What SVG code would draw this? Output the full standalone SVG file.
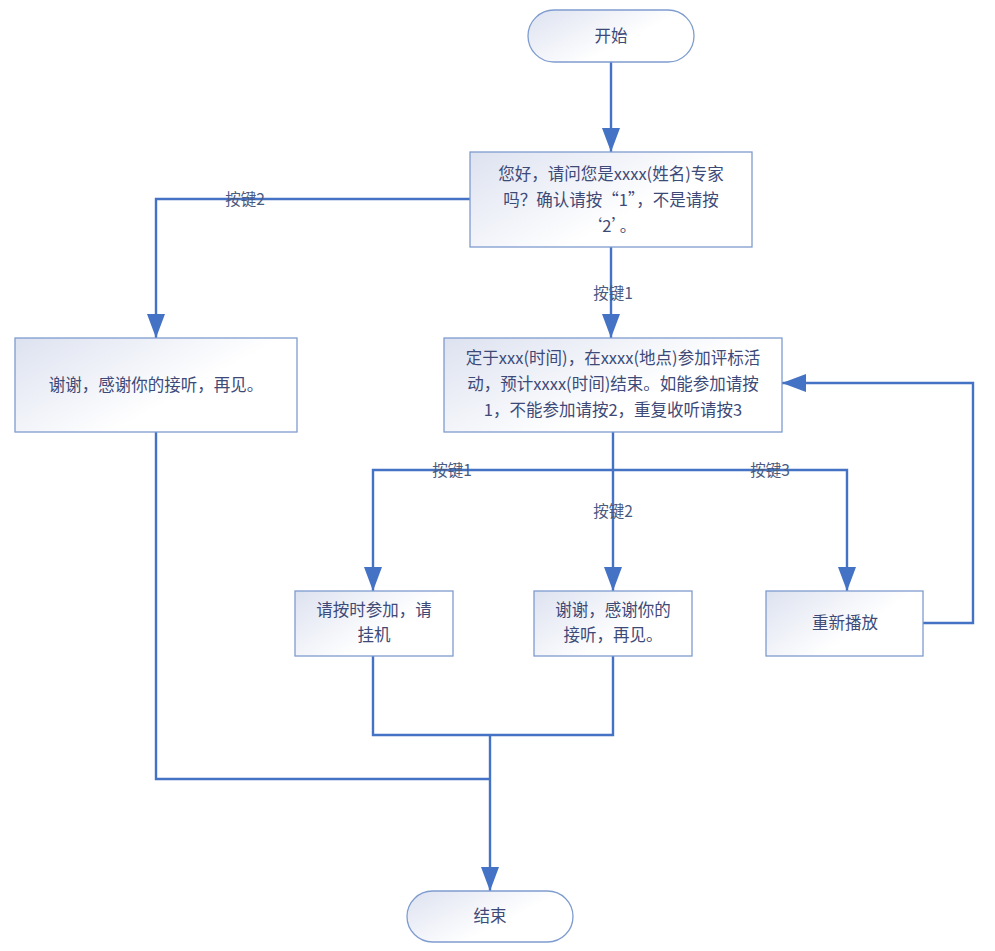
<svg xmlns="http://www.w3.org/2000/svg" width="995" height="951" viewBox="0 0 995 951">
<style>
.n{stroke:#7f9ccf;stroke-width:1.3;fill:url(#g)}
.t{font-family:"Noto Sans CJK SC","Liberation Sans",sans-serif;font-size:16.5px;fill:#3d4a78;text-anchor:middle}
.c{stroke:#4472c4;stroke-width:2.4;fill:none}
.l{font-family:"Noto Sans CJK SC","Liberation Sans",sans-serif;font-size:15.5px;fill:#4a5a80;text-anchor:middle}
</style>
<defs>
<linearGradient id="g" x1="0" y1="0" x2="1" y2="0.6"><stop offset="0" stop-color="#dde2f0"/><stop offset="0.7" stop-color="#ffffff"/></linearGradient>
<marker id="a" markerWidth="24" markerHeight="18" viewBox="0 0 24 18" refX="24" refY="9" orient="auto" markerUnits="userSpaceOnUse"><path d="M0,0 L24,9 L0,18 Z" fill="#4472c4"/></marker>
</defs>
<rect width="995" height="951" fill="#fff"/>
<g id="connectors">
<path class="c" d="M611,62 V152" marker-end="url(#a)"/>
<path class="c" d="M470,199 H156 V338" marker-end="url(#a)"/>
<path class="c" d="M611,247 V338" marker-end="url(#a)"/>
<path class="c" d="M613,432 V591" marker-end="url(#a)"/>
<path class="c" d="M613,470 H373 V591" marker-end="url(#a)"/>
<path class="c" d="M613,470 H847 V591" marker-end="url(#a)"/>
<path class="c" d="M923,623 H973 V383 H782" marker-end="url(#a)"/>
<path class="c" d="M156,432 V779 H490"/>
<path class="c" d="M373,656 V735 H613 V656"/>
<path class="c" d="M490,735 V891" marker-end="url(#a)"/>
<text class="l" x="245" y="205">按键2</text>
<text class="l" x="613" y="299">按键1</text>
<text class="l" x="613" y="517">按键2</text>
<text class="l" x="452" y="476">按键1</text>
<text class="l" x="770" y="476">按键3</text>
</g>
<g id="start"><rect class="n" x="528" y="10" width="166" height="52" rx="26"/><text class="t" x="611" y="42">开始</text></g>
<g id="ask"><rect class="n" x="470" y="152" width="282" height="95"/>
<text class="t" x="611" y="180">您好，请问您是xxxx(姓名)专家</text>
<text class="t" x="611" y="206">吗？确认请按“1”，不是请按</text>
<text class="t" x="611" y="232">‘2’。</text></g>
<g id="info"><rect class="n" x="444" y="338" width="338" height="94"/>
<text class="t" x="613" y="364">定于xxx(时间)，在xxxx(地点)参加评标活</text>
<text class="t" x="613" y="390">动，预计xxxx(时间)结束。如能参加请按</text>
<text class="t" x="613" y="416">1，不能参加请按2，重复收听请按3</text></g>
<g id="bye1"><rect class="n" x="15" y="338" width="282" height="94"/><text class="t" x="156" y="391">谢谢，感谢你的接听，再见。</text></g>
<g id="attend"><rect class="n" x="295" y="591" width="158" height="65"/><text class="t" x="374" y="616">请按时参加，请</text><text class="t" x="374" y="641">挂机</text></g>
<g id="bye2"><rect class="n" x="534" y="591" width="158" height="65"/><text class="t" x="613" y="616">谢谢，感谢你的</text><text class="t" x="613" y="641">接听，再见。</text></g>
<g id="replay"><rect class="n" x="766" y="591" width="157" height="65"/><text class="t" x="845" y="629">重新播放</text></g>
<g id="end"><rect class="n" x="407" y="891" width="166" height="51" rx="25.5"/><text class="t" x="490" y="922">结束</text></g>
</svg>
